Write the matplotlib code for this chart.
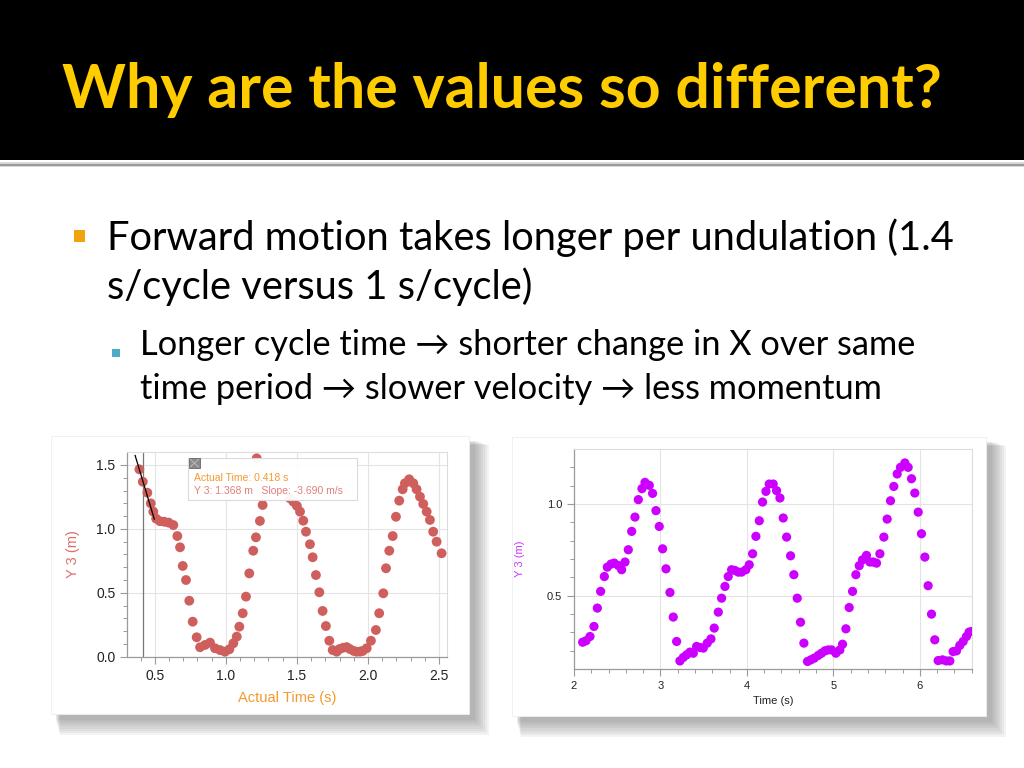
import matplotlib
matplotlib.use("Agg")
import matplotlib.pyplot as plt
from matplotlib.patches import Rectangle
import numpy as np

# ---------------- data ----------------
title = "Why are the values so different?"
bullet1_lines = ["Forward motion takes longer per undulation (1.4", "s/cycle versus 1 s/cycle)"]
bullet2_lines = ["Longer cycle time \u2192 shorter change in X over same",
                 "time period \u2192 slower velocity \u2192 less momentum"]

# left chart (forward motion)
left_t = [0.392, 0.416, 0.448, 0.472, 0.49, 0.51, 0.537, 0.567, 0.598, 0.631, 0.659, 0.678,
          0.697, 0.72, 0.743, 0.767, 0.795, 0.819, 0.854, 0.889, 0.924, 0.959, 0.994, 1.025,
          1.053, 1.077, 1.095, 1.119, 1.142, 1.165, 1.193, 1.212, 1.217, 1.24, 1.259,
          1.452, 1.475, 1.50, 1.522, 1.545, 1.564, 1.592, 1.611, 1.634, 1.658, 1.681, 1.704,
          1.728, 1.752, 1.78, 1.80, 1.826, 1.85, 1.873, 1.90, 1.921, 1.945, 1.963, 1.991,
          2.021, 2.056, 2.079, 2.108, 2.127, 2.15, 2.174, 2.197, 2.22, 2.244, 2.26, 2.29,
          2.319, 2.342, 2.366, 2.389, 2.413, 2.436, 2.459, 2.483, 2.518]
left_y = [1.466, 1.369, 1.283, 1.20, 1.135, 1.08, 1.06, 1.056, 1.049, 1.03, 0.944, 0.856,
          0.71, 0.60, 0.438, 0.274, 0.152, 0.074, 0.092, 0.11, 0.066, 0.052, 0.039, 0.058,
          0.105, 0.157, 0.235, 0.34, 0.47, 0.652, 0.829, 0.934, 1.552, 1.062, 1.187,
          1.239, 1.213, 1.18, 1.135, 1.064, 0.978, 0.88, 0.778, 0.639, 0.504, 0.358, 0.24,
          0.125, 0.052, 0.039, 0.06, 0.07, 0.075, 0.06, 0.045, 0.039, 0.04, 0.045, 0.066,
          0.125, 0.209, 0.34, 0.496, 0.692, 0.829, 0.944, 1.095, 1.221, 1.31, 1.357, 1.388,
          1.357, 1.31, 1.252, 1.195, 1.135, 1.07, 0.978, 0.90, 0.809]
cursor_time = 0.418
cursor_y = 1.368
cursor_slope = -3.690

# right chart (backward motion)
right_t = [2.10, 2.139, 2.185, 2.231, 2.27, 2.308, 2.351, 2.385, 2.428, 2.466, 2.513, 2.551,
           2.59, 2.628, 2.667, 2.705, 2.744, 2.786, 2.821, 2.871, 2.909, 2.948, 2.986, 3.025,
           3.064, 3.11, 3.148, 3.187, 3.225, 3.264, 3.302, 3.341, 3.38, 3.418, 3.457, 3.495,
           3.541, 3.584, 3.622, 3.669, 3.707, 3.746, 3.784, 3.823, 3.861, 3.90, 3.938, 3.988,
           4.027, 4.066, 4.104, 4.143, 4.181, 4.22, 4.258, 4.304, 4.343, 4.382, 4.42, 4.459,
           4.505, 4.543, 4.582, 4.62, 4.659, 4.701, 4.74, 4.778, 4.825, 4.863, 4.902, 4.94,
           4.979, 5.029, 5.075, 5.106, 5.145, 5.183, 5.222, 5.26, 5.299, 5.337, 5.383, 5.422,
           5.46, 5.499, 5.538, 5.584, 5.622, 5.661, 5.699, 5.738, 5.776, 5.827, 5.865, 5.904,
           5.942, 5.981, 6.019, 6.058, 6.096, 6.135, 6.173, 6.212, 6.262, 6.308, 6.347, 6.385,
           6.424, 6.462, 6.501, 6.539, 6.57, 6.597]
right_y = [0.247, 0.255, 0.278, 0.333, 0.433, 0.524, 0.605, 0.656, 0.673, 0.678, 0.665, 0.642,
           0.684, 0.751, 0.851, 0.929, 1.024, 1.084, 1.118, 1.102, 1.058, 0.964, 0.878, 0.756,
           0.647, 0.518, 0.384, 0.251, 0.145, 0.164, 0.178, 0.193, 0.187, 0.224, 0.218, 0.215,
           0.242, 0.265, 0.324, 0.411, 0.487, 0.551, 0.605, 0.642, 0.638, 0.629, 0.629, 0.642,
           0.669, 0.729, 0.824, 0.909, 1.011, 1.069, 1.109, 1.109, 1.073, 1.033, 0.924, 0.82,
           0.718, 0.615, 0.487, 0.356, 0.242, 0.142, 0.151, 0.16, 0.175, 0.187, 0.20, 0.205,
           0.205, 0.187, 0.205, 0.236, 0.32, 0.436, 0.524, 0.615, 0.664, 0.696, 0.72, 0.684,
           0.684, 0.678, 0.729, 0.82, 0.918, 1.018, 1.096, 1.164, 1.20, 1.224, 1.20, 1.138,
           1.06, 0.956, 0.838, 0.711, 0.555, 0.40, 0.26, 0.147, 0.151, 0.145, 0.145, 0.196,
           0.20, 0.229, 0.251, 0.278, 0.302, 0.305]

left_xticks = [0.5, 1.0, 1.5, 2.0, 2.5]
left_yticks = [0.0, 0.5, 1.0, 1.5]
right_xticks = [2, 3, 4, 5, 6]
right_yticks = [0.5, 1.0]

# ---------------- figure ----------------
W, H = 1024, 768
fig = plt.figure(figsize=(W / 100, H / 100), dpi=100)
fig.patch.set_facecolor("white")

bg = fig.add_axes([0, 0, 1, 1])
bg.set_xlim(0, W)
bg.set_ylim(H, 0)
bg.axis("off")

# header
bg.add_patch(Rectangle((0, 0), W, 160, facecolor="black", edgecolor="none"))
bg.add_patch(Rectangle((0, 162), W, 5, facecolor="#d8d8d8", edgecolor="none"))
bg.add_patch(Rectangle((0, 163.5), W, 2.5, facecolor="#9a9a9a", edgecolor="none"))

SLIDE_FONT = ["Lato", "DejaVu Sans"]
renderer = fig.canvas.get_renderer()


def fit_text(x, y, s, target_w, size0, **kw):
    t = bg.text(x, y, s, fontsize=size0, va="baseline", ha="left", family=SLIDE_FONT, **kw)
    w = t.get_window_extent(renderer).width
    t.set_fontsize(size0 * target_w / w)
    return t


tt = fit_text(62, 108, title, 880, 40, color="#FFCC00", fontweight="bold")

# bullets
bg.add_patch(Rectangle((73.5, 230), 11.5, 12, facecolor="#F0A30A", edgecolor="none"))
b1 = fit_text(107, 250, bullet1_lines[0], 848, 24, color="black")
bg.text(107, 299, bullet1_lines[1], fontsize=b1.get_fontsize(), va="baseline", ha="left",
        family=SLIDE_FONT, color="black")

bg.add_patch(Rectangle((112, 348.5), 8, 8, facecolor="#4BACC6", edgecolor="none"))
b2 = fit_text(140, 355, bullet2_lines[0], 777, 20, color="black")
bg.text(140, 399, bullet2_lines[1], fontsize=b2.get_fontsize(), va="baseline", ha="left",
        family=SLIDE_FONT, color="black")

# card shadows and cards
def card(x0, y0, x1, y1):
    for i in range(8, 0, -1):
        bg.add_patch(Rectangle((x0 + 4 + i * 0.6, y0 + 4 + i * 0.6), (x1 - x0) + i * 1.4, (y1 - y0) + i * 1.5,
                               facecolor="#606060", alpha=0.07, edgecolor="none"))
    bg.add_patch(Rectangle((x0, y0), x1 - x0, y1 - y0, facecolor="white", edgecolor="#eeeeee", lw=0.6))


card(51, 436, 469, 714)
card(512, 437, 986, 716)

CHART_FONT = "Liberation Sans"


def style_axes(ax, xt, yt, xminor, yminor, labsize):
    ax.set_facecolor("white")
    ax.set_xticks(xt)
    ax.set_yticks(yt)
    ax.set_xticks(xminor, minor=True)
    ax.set_yticks(yminor, minor=True)
    ax.grid(True, which="major", color="#e4e4e4", lw=0.8)
    ax.set_axisbelow(True)
    for s in ["top", "right"]:
        ax.spines[s].set_color("#dddddd")
        ax.spines[s].set_linewidth(0.8)
    for s in ["left", "bottom"]:
        ax.spines[s].set_color("#9a9a9a")
        ax.spines[s].set_linewidth(0.9)
    ax.tick_params(which="major", direction="out", length=5, width=0.8, color="#9a9a9a",
                   labelsize=labsize, labelcolor="#222222")
    ax.tick_params(which="minor", direction="out", length=3, width=0.7, color="#9a9a9a")
    for lab in ax.get_xticklabels() + ax.get_yticklabels():
        lab.set_family(CHART_FONT)


# ---------- left chart ----------
ax1 = fig.add_axes([127.3 / W, (H - 656.7) / H, 319.4 / W, 205 / H])
ax1.set_xlim(0.307, 2.554)
ax1.set_ylim(0.0, 1.604)
style_axes(ax1, left_xticks, left_yticks, np.arange(0.4, 2.56, 0.1), np.arange(0.1, 1.6, 0.1), 10)
ax1.xaxis.set_major_formatter(matplotlib.ticker.FormatStrFormatter("%.1f"))
ax1.yaxis.set_major_formatter(matplotlib.ticker.FormatStrFormatter("%.1f"))
ax1.scatter(left_t, left_y, s=50, color="#CF5F5C", edgecolors="none", zorder=3)
ax1.axvline(cursor_time, color="#777777", lw=0.9, zorder=2)
tx = np.array([0.362, 0.497])
ax1.plot(tx, cursor_y + cursor_slope * (tx - cursor_time), color="black", lw=0.9, zorder=4)
ax1.set_xlabel("Actual Time (s)", color="#F39A2E", fontsize=10.5, family=CHART_FONT, labelpad=6)
ax1.set_ylabel("Y 3 (m)", color="#DE6E6C", fontsize=10.5, family=CHART_FONT, labelpad=12)

# tooltip box
ax1.add_patch(Rectangle((0.736, 1.226), 1.184, 0.326, facecolor="white", edgecolor="#d8d8d8",
                        lw=0.8, alpha=0.95, zorder=5))
ax1.add_patch(Rectangle((0.743, 1.478), 0.072, 0.074, facecolor="#8a8a8a", edgecolor="#666666",
                        lw=0.6, zorder=6))
ax1.plot([0.750, 0.808], [1.485, 1.545], color="#bbbbbb", lw=0.7, zorder=7)
ax1.plot([0.750, 0.808], [1.545, 1.485], color="#bbbbbb", lw=0.7, zorder=7)
ax1.text(0.776, 1.40, f"Actual Time: {cursor_time:.3f} s", color="#F39A2E", fontsize=7.5,
         family=CHART_FONT, va="center", ha="left", zorder=7)
ax1.text(0.776, 1.297, f"Y 3: {cursor_y:.3f} m   Slope: {cursor_slope:.3f} m/s", color="#E07E7C",
         fontsize=7.5, family=CHART_FONT, va="center", ha="left", zorder=7)

# ---------- right chart ----------
ax2 = fig.add_axes([574 / W, (H - 669) / H, 397.7 / W, 220 / H])
ax2.set_xlim(2.0, 6.6)
ax2.set_ylim(0.101, 1.30)
style_axes(ax2, right_xticks, right_yticks, np.arange(2.2, 6.61, 0.2), np.arange(0.2, 1.3, 0.1), 8)
ax2.yaxis.set_major_formatter(matplotlib.ticker.FormatStrFormatter("%.1f"))
ax2.scatter(right_t, right_y, s=44, color="#CC00FF", edgecolors="none", zorder=3)
ax2.set_xlabel("Time (s)", color="#222222", fontsize=8, family=CHART_FONT, labelpad=4)
ax2.set_ylabel("Y 3 (m)", color="#CC33FF", fontsize=8, family=CHART_FONT, labelpad=16)

fig.savefig("out.png", dpi=100)
